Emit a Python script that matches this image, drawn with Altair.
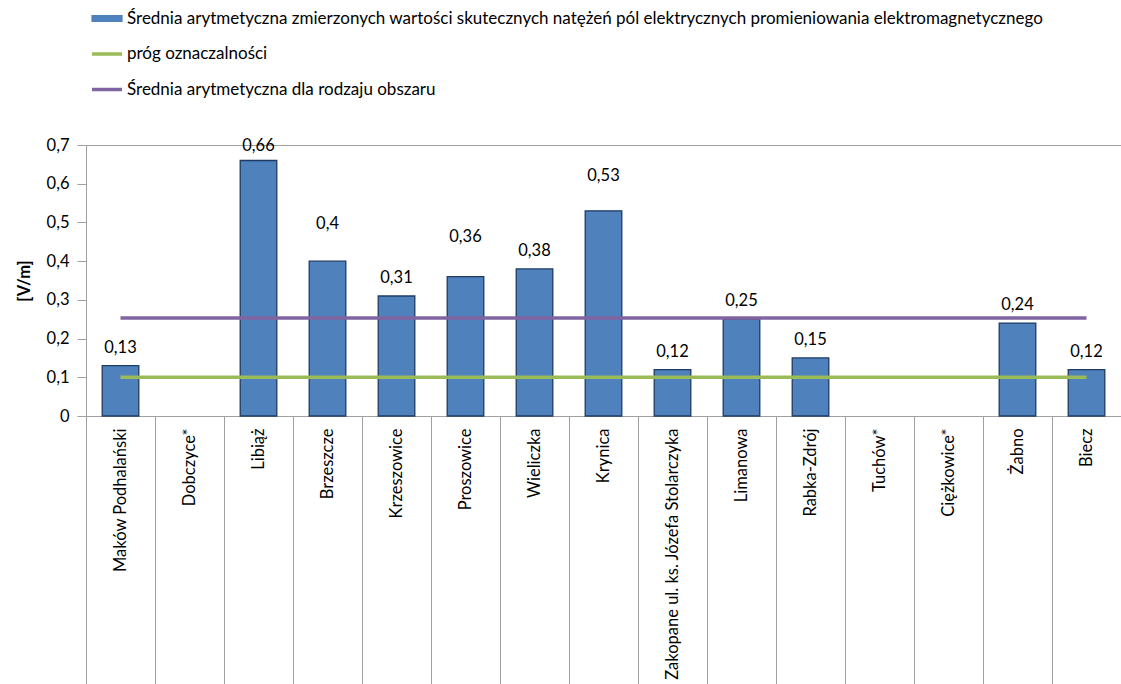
import altair as alt
import pandas as pd

# Measurement sites, in the order they appear on the category axis
towns = [
    "Maków Podhalański", "Dobczyce*", "Libiąż", "Brzeszcze", "Krzeszowice",
    "Proszowice", "Wieliczka", "Krynica", "Zakopane ul. ks. Józefa Stolarczyka",
    "Limanowa", "Rabka-Zdrój", "Tuchów*", "Ciężkowice*", "Żabno", "Biecz",
]

# Mean measured RMS electric field strength [V/m]; None = no result
field_strength = [0.13, None, 0.66, 0.40, 0.31, 0.36, 0.38, 0.53, 0.12,
                  0.25, 0.15, None, None, 0.24, 0.12]

# Reference lines [V/m]
detection_threshold = 0.1
area_type_mean = 0.253

y_ticks = [0, 0.1, 0.2, 0.3, 0.4, 0.5, 0.6, 0.7]

series_bar = ("Średnia arytmetyczna zmierzonych wartości skutecznych natężeń pól "
              "elektrycznych promieniowania elektromagnetycznego")
series_thr = "próg oznaczalności"
series_avg = "Średnia arytmetyczna dla rodzaju obszaru"

# Value labels that sit higher/lower than the default spot above the bar (V/m)
label_lift = {"Libiąż": -0.008, "Brzeszcze": 0.05, "Proszowice": 0.057, "Krynica": 0.044}

BLUE, BLUE_EDGE, GREEN, PURPLE = "#4F81BD", "#1F3B63", "#9BBB59", "#8064A2"
GRAY = "#A0A0A0"
FONT = "Lato"
FS = 16.5
LEGEND_FS = 17

df = pd.DataFrame({
    "town": towns,
    "value": field_strength,
    "thr": [detection_threshold] * len(towns),
    "avg": [area_type_mean] * len(towns),
})
df["lift"] = df["town"].map(label_lift).fillna(0.0)

color_scale = alt.Scale(domain=[series_bar, series_thr, series_avg],
                        range=[BLUE, GREEN, PURPLE])

# first entry drawn as a flat box (the bars), the others as short strokes
legend = alt.Legend(
    title=None, orient="none", legendX=12.5, legendY=-135, direction="vertical",
    padding=0, rowPadding=17.5, labelOffset=11.5, labelLimit=1100,
    labelFont=FONT, labelFontSize=LEGEND_FS, labelColor="#000000",
    symbolSize=900, symbolOpacity=1,
    symbolType={"expr": "datum.index === 0 ? 'M-1,-0.2H1V0.2H-1Z' : 'stroke'"},
    symbolFillColor={"expr": f"datum.index === 0 ? '{BLUE}' : 'transparent'"},
    symbolStrokeColor={"expr": f"datum.index === 0 ? '{BLUE_EDGE}' : "
                               f"(datum.index === 1 ? '{GREEN}' : '{PURPLE}')"},
    symbolStrokeWidth={"expr": "datum.index === 0 ? 1.2 : 3.5"},
)

x_axis = alt.Axis(
    title=None, labelAngle=-90, labelFont=FONT, labelFontSize=FS, labelColor="#000000",
    domainColor=GRAY, tickColor=GRAY, tickBand="extent", tickSize=268,
    labelPadding=-256, labelLimit=400,
)
x_enc = alt.X("town:N", sort=towns,
              scale=alt.Scale(domain=towns, paddingInner=0, paddingOuter=0),
              axis=x_axis)

y_axis = alt.Axis(
    title="[V/m]", titleFont=FONT, titleFontSize=FS, titleFontWeight="bold",
    titleColor="#000000", titlePadding=14,
    values=y_ticks, format="~g", labelExpr="replace(datum.label, '.', ',')",
    labelFont=FONT, labelFontSize=FS, labelColor="#000000", labelPadding=8,
    tickSize=9, tickColor=GRAY, domainColor=GRAY, grid=False,
)
y_scale = alt.Scale(domain=[0, 0.7], nice=False)

series_color = alt.Color("series:N", scale=color_scale, legend=legend)

base = alt.Chart(df)

bars = base.transform_filter("isValid(datum.value)").transform_calculate(
    series=f"'{series_bar}'"
).mark_bar(
    width=alt.RelativeBandSize(0.53), stroke=BLUE_EDGE, strokeWidth=1.3
).encode(
    x=x_enc,
    y=alt.Y("value:Q", scale=y_scale, axis=y_axis),
    color=series_color,
)

labels = base.transform_filter("isValid(datum.value)").transform_calculate(
    pos="datum.value + datum.lift",
    txt="replace(toString(datum.value), '.', ',')",
).mark_text(font=FONT, fontSize=FS, color="#000000", baseline="middle", dy=-18).encode(
    x=x_enc,
    y=alt.Y("pos:Q", scale=y_scale, axis=y_axis),
    text="txt:N",
)

thr_line = base.transform_calculate(series=f"'{series_thr}'").mark_line(
    strokeWidth=3.5
).encode(
    x=x_enc,
    y=alt.Y("thr:Q", scale=y_scale, axis=y_axis),
    color=series_color,
)

avg_line = base.transform_calculate(series=f"'{series_avg}'").mark_line(
    strokeWidth=3.5
).encode(
    x=x_enc,
    y=alt.Y("avg:Q", scale=y_scale, axis=y_axis),
    color=series_color,
)

chart = alt.layer(bars, thr_line, avg_line, labels).properties(
    width=1035, height=271,
    autosize=alt.AutoSizeParams(type="none"),
    padding={"left": 86, "top": 145, "right": 0, "bottom": 268},
    background="white",
).configure_view(stroke=GRAY, strokeWidth=1)

chart.save("out.html", embed_options={"renderer": "svg", "actions": False})
